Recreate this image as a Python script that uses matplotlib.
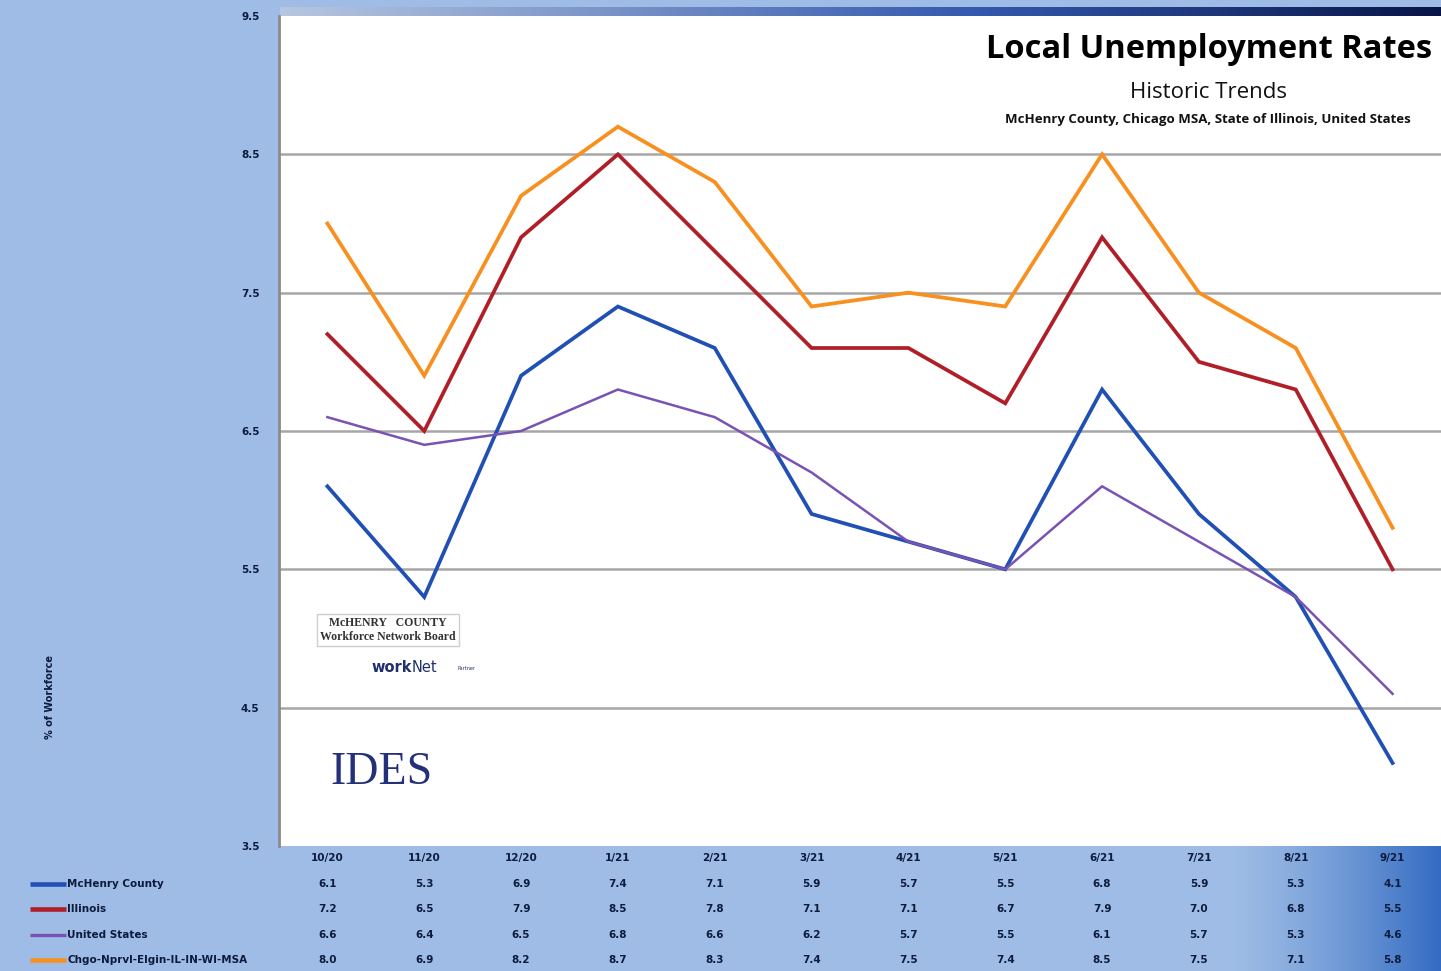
import numpy as np
import matplotlib.pyplot as plt

# data
months = ['10/20', '11/20', '12/20', '1/21', '2/21', '3/21', '4/21', '5/21',
          '6/21', '7/21', '8/21', '9/21']
mchenry = [6.1, 5.3, 6.9, 7.4, 7.1, 5.9, 5.7, 5.5, 6.8, 5.9, 5.3, 4.1]
illinois = [7.2, 6.5, 7.9, 8.5, 7.8, 7.1, 7.1, 6.7, 7.9, 7.0, 6.8, 5.5]
usa = [6.6, 6.4, 6.5, 6.8, 6.6, 6.2, 5.7, 5.5, 6.1, 5.7, 5.3, 4.6]
msa = [8.0, 6.9, 8.2, 8.7, 8.3, 7.4, 7.5, 7.4, 8.5, 7.5, 7.1, 5.8]
series_names = ['McHenry County', 'Illinois', 'United States', 'Chgo-Nprvl-Elgin-IL-IN-WI-MSA']
y_ticks = [3.5, 4.5, 5.5, 6.5, 7.5, 8.5, 9.5]

colors = ['#2150b5', '#b01f28', '#7a52b3', '#f7901e']
widths = [2.7, 2.7, 1.8, 2.7]
series = [mchenry, illinois, usa, msa]

W, H = 1441, 971
fig = plt.figure(figsize=(W / 100, H / 100), dpi=100)

# background with the blue gradients
bg = fig.add_axes([0, 0, 1, 1], zorder=-10)
bg.set_axis_off()
base = np.array([0.62, 0.74, 0.90])
img = np.ones((H, W, 3)) * base
xx = np.arange(W)
# bottom band darkens towards the right
t = np.clip((xx - 1230) / 211.0, 0, 1) ** 1.3
dark = np.array([0.20, 0.42, 0.76])
band = base[None, :] * (1 - t[:, None]) + dark[None, :] * t[:, None]
img[840:, :, :] = band[None, :, :]
# top strip light to navy
t2 = np.clip((xx - 280) / 1161.0, 0, 1)
c0 = np.array([0.72, 0.78, 0.88])
c1 = np.array([0.20, 0.35, 0.68])
c2 = np.array([0.03, 0.08, 0.28])
strip = np.where(t2[:, None] < 0.6,
                 c0 * (1 - t2[:, None] / 0.6) + c1 * (t2[:, None] / 0.6),
                 c1 * (1 - (t2[:, None] - 0.6) / 0.4) + c2 * ((t2[:, None] - 0.6) / 0.4))
strip[xx < 280] = base
img[7:16, :, :] = strip[None, :, :]
bg.imshow(img, extent=[0, W, 0, H], aspect='auto')
bg.set_xlim(0, W)
bg.set_ylim(0, H)

# main plot
ax = fig.add_axes([279 / W, 125 / H, 1 - 279 / W, 830 / H])
ax.set_facecolor('white')
x = np.arange(len(months))
for s, c, lw in zip(series, colors, widths):
    ax.plot(x, s, color=c, lw=lw, solid_joinstyle='miter')
ax.set_xlim(-0.5, len(months) - 0.5)
ax.set_ylim(3.5, 9.5)
ax.set_yticks(y_ticks)
ax.set_yticklabels([f'{v:.1f}' for v in y_ticks], fontsize=7.5, fontweight='bold', color='#0d1b3d')
ax.tick_params(axis='y', length=0, pad=14)
ax.set_xticks([])
for v in y_ticks[1:-1]:
    ax.axhline(v, color='#a6a6a6', lw=1.8, zorder=0)
for sp in ax.spines.values():
    sp.set_visible(False)
ax.spines['left'].set_visible(True)
ax.spines['left'].set_color('#8a8a8a')
ax.spines['left'].set_linewidth(2)

# titles
fig.text(1432 / W, 1 - 49 / H, 'Local Unemployment Rates', ha='right', va='center',
         fontsize=23.5, fontweight='bold', family='Open Sans', color='black')
fig.text(1208 / W, 1 - 92 / H, 'Historic Trends', ha='center', va='center',
         fontsize=16, family='Open Sans', color='#111111')
fig.text(1208 / W, 1 - 120 / H, 'McHenry County, Chicago MSA, State of Illinois, United States',
         ha='center', va='center', fontsize=9.5, fontweight='bold', family='Open Sans',
         color='#111111')

# y label
fig.text(50 / W, 1 - 697 / H, '% of Workforce', rotation=90, ha='center', va='center',
         fontsize=7, fontweight='bold', color='#0d1b3d')

# logos as text
fig.text(388 / W, 1 - 630 / H, 'McHENRY   COUNTY\nWorkforce Network Board', ha='center',
         va='center', fontsize=8.5, fontweight='bold', family='Liberation Serif',
         color='#333333', linespacing=1.15,
         bbox=dict(boxstyle='square,pad=0.3', fc='white', ec='#cfcfcf', lw=1))
fig.text(412 / W, 1 - 667 / H, 'work', ha='right', va='center', fontsize=10.5, fontweight='bold',
         color='#1f2f6f')
fig.text(412 / W, 1 - 667 / H, 'Net', ha='left', va='center', fontsize=10.5, color='#1f2f6f')
fig.text(458 / W, 1 - 669 / H, 'Partner', ha='left', va='center', fontsize=3.5, color='#1f2f6f')
fig.text(381 / W, 1 - 773 / H, 'IDES', ha='center', va='center', fontsize=33,
         family='Liberation Serif', color='#24307a')

# data table under the plot
col_x = 279 + (x + 0.5) * (W - 279) / len(months)
txt_kw = dict(ha='center', va='center', fontsize=7.5, fontweight='bold', color='#0d1b3d')
for xi, m in zip(col_x, months):
    fig.text(xi / W, 1 - 858 / H, m, **txt_kw)
row_y = [884, 909, 935, 960]
for ry, name, s, c, lw in zip(row_y, series_names, series, colors, widths):
    yf = 1 - ry / H
    bg.plot([30, 66], [H - ry, H - ry], color=c, lw=lw + 0.6, solid_capstyle='butt')
    fig.text(67 / W, yf, name, ha='left', va='center', fontsize=7.5, fontweight='bold',
             color='#0d1b3d')
    for xi, v in zip(col_x, s):
        fig.text(xi / W, yf, f'{v:.1f}', **txt_kw)

fig.savefig('out.png', dpi=100)
